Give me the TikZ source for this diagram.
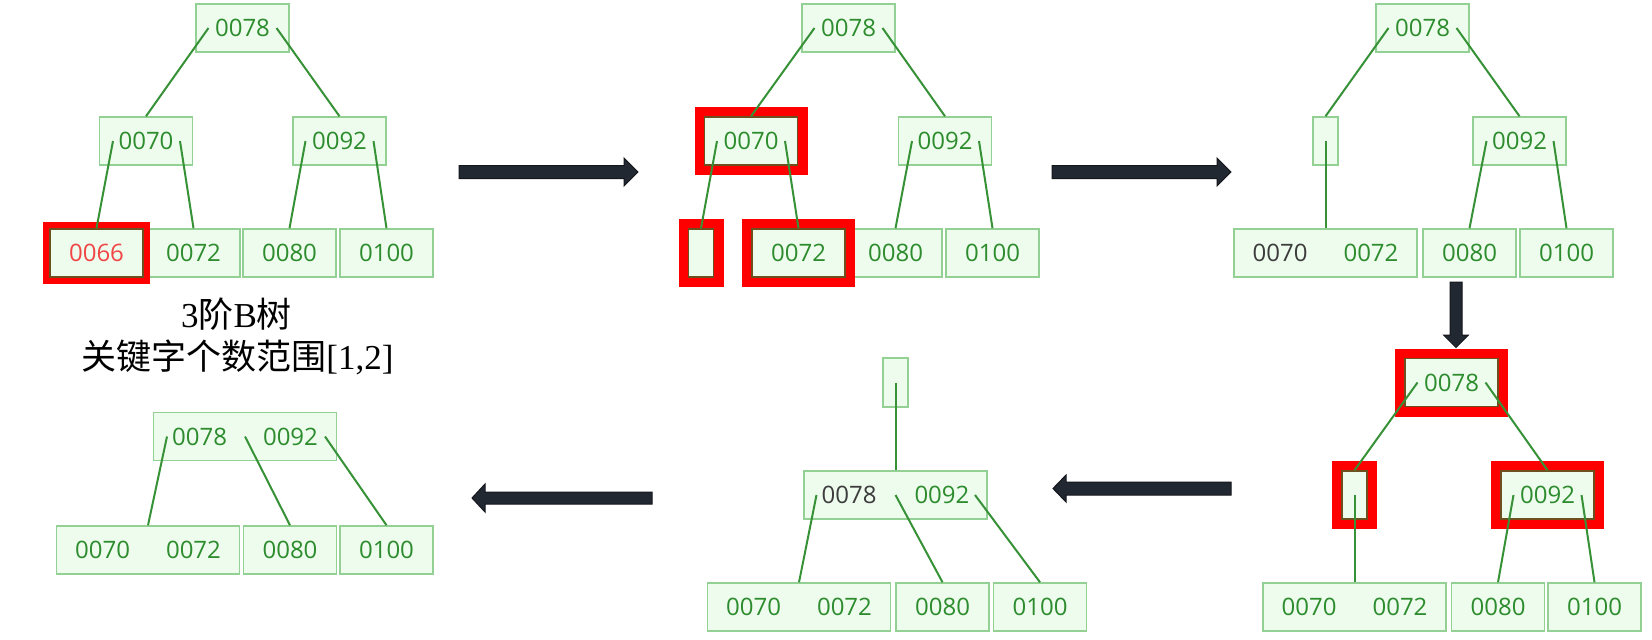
\documentclass[tikz,border=0pt]{standalone}
\usepackage{fontspec}
\setmainfont{Liberation Serif}
\newfontfamily\cjk{Noto Sans CJK SC}
\newfontfamily\nodefont{Open Sans}
\usetikzlibrary{calc}
\definecolor{boxfill}{RGB}{238,252,238}
\definecolor{boxline}{RGB}{147,208,147}
\definecolor{txtgreen}{RGB}{45,140,45}
\definecolor{edgegreen}{RGB}{55,145,55}
\definecolor{hlline}{RGB}{110,80,30}
\definecolor{hlred}{RGB}{255,0,0}
\definecolor{txtred}{RGB}{240,70,70}
\definecolor{txtgray}{RGB}{60,60,60}
\definecolor{arrowfill}{RGB}{34,40,50}
\definecolor{arrowline}{RGB}{20,22,28}
\begin{document}
\begin{tikzpicture}[x=0.5pt,y=-0.5pt,
  bn/.style={draw=boxline, fill=boxfill, line width=0.75pt, minimum width=46.5pt,
    minimum height=24pt, inner sep=0pt, text=txtgreen,
    font=\nodefont\fontsize{12pt}{12pt}\selectfont},
  bntwo/.style={bn, minimum width=91.5pt},
  bnzero/.style={bn, minimum width=12.5pt},
  hlseven/.style={draw=hlline, preaction={draw=hlred, line width=7pt}},
  hlten/.style={draw=hlline, preaction={draw=hlred, line width=10pt}},
  edge/.style={draw=edgegreen, line width=1pt},
  bigarrow/.style={fill=arrowfill, draw=arrowline, line width=0.5pt, line join=miter},
  caption/.style={font=\fontsize{17.5pt}{21pt}\selectfont, text=black, inner sep=0pt}
]
\fill[white] (0,0) rectangle (1652,639);
\useasboundingbox (0,0) rectangle (1652,639);

% ---------- Tree 1 ----------
\node[bn] (t1r) at (242.5,28) {0078};
\node[bn] (t1a) at (146,141) {0070};
\node[bn] (t1b) at (339.5,141) {0092};
\node[bn] (t1l2) at (193.5,253) {0072};
\node[bn] (t1l3) at (289.5,253) {0080};
\node[bn] (t1l4) at (386.5,253) {0100};
\node[bn, hlseven, text=txtred] (t1l1) at (96.5,253) {0066};
\draw[edge] ($(t1r.center)+(-34,0)$) -- (t1a.north);
\draw[edge] ($(t1r.center)+(34,0)$) -- (t1b.north);
\draw[edge] ($(t1a.center)+(-33,0)$) -- (t1l1.north);
\draw[edge] ($(t1a.center)+(34,0)$) -- (t1l2.north);
\draw[edge] ($(t1b.center)+(-34,0)$) -- (t1l3.north);
\draw[edge] ($(t1b.center)+(34,0)$) -- (t1l4.north);
\node[caption] (cap1) at (236.5,314) {3{\cjk 阶}B{\cjk 树}};
\node[caption] (cap2) at (237.5,357) {{\cjk 关键字个数范围}[1,2]};

% ---------- Tree 2 ----------
\node[bn] (t2r) at (848.5,28) {0078};
\node[bn] (t2b) at (945,141) {0092};
\node[bn] (t2l3) at (895.5,253) {0080};
\node[bn] (t2l4) at (992.5,253) {0100};
\node[bn, hlten] (t2a) at (751,141) {0070};
\node[bnzero, hlten] (t2l1) at (701,253) {};
\node[bn, hlten] (t2l2) at (798.5,253) {0072};
\draw[edge] ($(t2r.center)+(-34,0)$) -- (t2a.north);
\draw[edge] ($(t2r.center)+(34,0)$) -- (t2b.north);
\draw[edge] ($(t2a.center)+(-34,0)$) -- (t2l1.north);
\draw[edge] ($(t2a.center)+(34,0)$) -- (t2l2.north);
\draw[edge] ($(t2b.center)+(-33,0)$) -- (t2l3.north);
\draw[edge] ($(t2b.center)+(34,0)$) -- (t2l4.north);

% ---------- Tree 3 ----------
\node[bn] (t3r) at (1422.5,28) {0078};
\node[bnzero] (t3a) at (1325.5,141) {};
\node[bn] (t3b) at (1519.5,141) {0092};
\node[bntwo] (t3l1) at (1325.5,253) {{\color{txtgray}0070}\hspace{18pt}0072};
\node[bn] (t3l2) at (1469.5,253) {0080};
\node[bn] (t3l3) at (1566.5,253) {0100};
\draw[edge] ($(t3r.center)+(-34,0)$) -- (t3a.north);
\draw[edge] ($(t3r.center)+(34,0)$) -- (t3b.north);
\draw[edge] (t3a.center) -- (t3l1.north);
\draw[edge] ($(t3b.center)+(-33,0)$) -- (t3l2.north);
\draw[edge] ($(t3b.center)+(34,0)$) -- (t3l3.north);

% ---------- Tree 4 ----------
\node[bntwo] (t4l1) at (1354.5,607) {0070\hspace{18pt}0072};
\node[bn] (t4l2) at (1498,607) {0080};
\node[bn] (t4l3) at (1594.5,607) {0100};
\node[bn, hlten] (t4r) at (1451.5,382.5) {0078};
\node[bnzero, hlten] (t4a) at (1354.5,495) {};
\node[bn, hlten] (t4b) at (1547.5,495) {0092};
\draw[edge] ($(t4r.center)+(-34,0)$) -- (t4a.north);
\draw[edge] ($(t4r.center)+(34,0)$) -- (t4b.north);
\draw[edge] (t4a.center) -- (t4l1.north);
\draw[edge] ($(t4b.center)+(-34,0)$) -- (t4l2.north);
\draw[edge] ($(t4b.center)+(34,0)$) -- (t4l3.north);

% ---------- Tree 5 ----------
\node[bnzero, minimum height=24.5pt] (t5r) at (895.5,382.5) {};
\node[bntwo] (t5a) at (895.5,495) {{\color{txtgray}0078}\hspace{19pt}0092};
\node[bntwo] (t5l1) at (799,607) {0070\hspace{18pt}0072};
\node[bn] (t5l2) at (942.5,607) {0080};
\node[bn] (t5l3) at (1040,607) {0100};
\draw[edge] (t5r.center) -- (t5a.north);
\draw[edge] ($(t5a.center)+(-79,0)$) -- (t5l1.north);
\draw[edge] (t5a.center) -- (t5l2.north);
\draw[edge] ($(t5a.center)+(79.5,0)$) -- (t5l3.north);

% ---------- Tree 6 ----------
\node[bntwo] (t6r) at (245,436.5) {0078\hspace{18pt}0092};
\node[bntwo] (t6l1) at (148,550) {0070\hspace{18pt}0072};
\node[bn] (t6l2) at (290,550) {0080};
\node[bn] (t6l3) at (386.5,550) {0100};
\draw[edge] ($(t6r.center)+(-78,0)$) -- (t6l1.north);
\draw[edge] (t6r.center) -- (t6l2.north);
\draw[edge] ($(t6r.center)+(80,0)$) -- (t6l3.north);

% ---------- Block arrows ----------
\draw[bigarrow] (459,165.5) -- (624,165.5) -- (624,158) -- (638,172) -- (624,186) -- (624,178.5) -- (459,178.5) -- cycle;
\draw[bigarrow] (1052,165.5) -- (1217,165.5) -- (1217,158) -- (1231,172) -- (1217,186) -- (1217,178.5) -- (1052,178.5) -- cycle;
\draw[bigarrow] (1450,282) -- (1462,282) -- (1462,335) -- (1468.5,335) -- (1456,347.5) -- (1443.5,335) -- (1450,335) -- cycle;
\draw[bigarrow] (1231,482) -- (1066,482) -- (1066,475) -- (1053,488.5) -- (1066,502) -- (1066,495) -- (1231,495) -- cycle;
\draw[bigarrow] (652,492) -- (485,492) -- (485,484) -- (472,498) -- (485,512) -- (485,504) -- (652,504) -- cycle;
\end{tikzpicture}
\end{document}
